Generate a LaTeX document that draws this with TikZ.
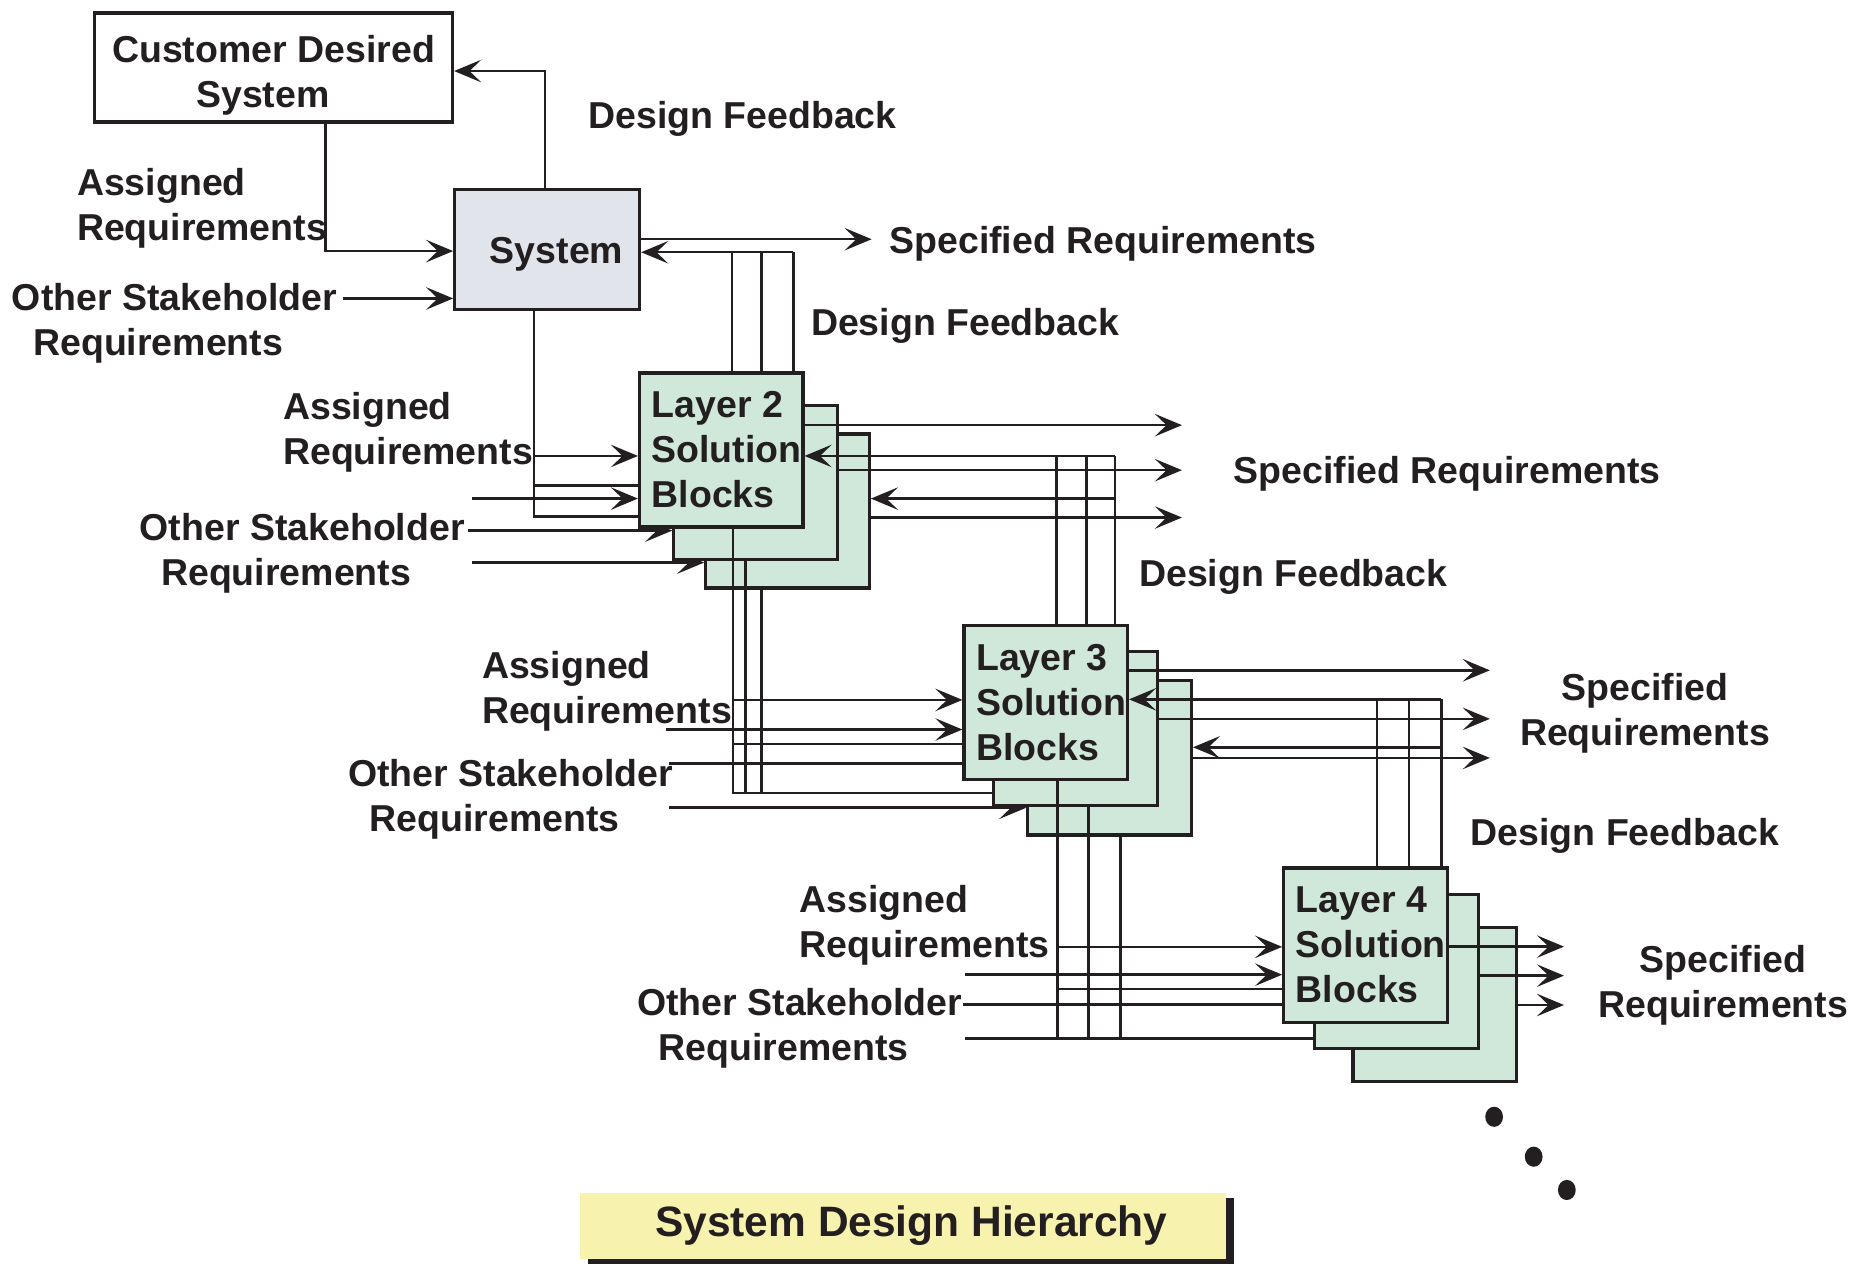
\documentclass[tikz,border=0pt]{standalone}
\usepackage{fontspec}
\setmainfont{Liberation Sans}
\usetikzlibrary{positioning, arrows.meta, shadows}
\definecolor{ink}{HTML}{231F20}
\definecolor{solgreen}{HTML}{CFE8DA}
\definecolor{sysgray}{HTML}{E1E4EA}
\definecolor{titleyellow}{HTML}{F7F2AE}
\newcommand{\assreq}{Assigned\\Requirements}
\newcommand{\otherreq}{Other Stakeholder\\\hspace*{1.8mm}Requirements}
\newcommand{\solblk}[1]{\hspace*{0.9mm}Layer #1\\\hspace*{0.9mm}Solution\\\hspace*{0.9mm}Blocks}

\begin{document}
\begin{tikzpicture}[x=0.01cm, y=-0.01cm, color=ink, line width=0.6pt,
  every node/.style={font=\fontsize{9}{10.8}\selectfont\bfseries, text=ink},
  lbl/.style={inner sep=0pt, align=left, yshift=-0.3mm},
  box/.style={draw=ink, line width=0.75pt, inner sep=0pt},
  blk/.style={box, fill=solgreen, minimum width=1.38cm, minimum height=1.30cm},
  arr/.style={-{Stealth[length=6.5pt, width=5.4pt, inset=2.8pt]}}]
\useasboundingbox (0,0) rectangle (1568,1067);

\node[box, minimum width=3.02cm, minimum height=0.92cm] (cds) at (231,57) {};
\node[lbl] (cdst) at ([yshift=-0.4mm]cds.center) {Customer Desired\\\hspace*{7.1mm}System};
\node[box, fill=sysgray, minimum width=1.56cm, minimum height=1.01cm] (sys) at (462,210.5) {};
\node[lbl] (syst) at ([xshift=0.8mm, yshift=-0.1mm]sys.center) {System};

% solution block stacks, back to front
\foreach \n/\x/\y in {2/665/431.5, 3/937/640, 4/1211.5/848.5}
  \node[blk] (c\n) at (\x,\y) {};
\coordinate (in2c) at (398.6,475);
\coordinate (in3c) at (565,682);
\draw[arr] (in2c) -- (in2c -| c2.west);
\draw[arr] (in3c) -- (in3c -| c3.west);
\foreach \n/\x/\y in {2/638/407.5, 3/908/615, 4/1179/820.5}
  \node[blk] (b\n) at (\x,\y) {};
\coordinate (in2b) at (395,448);
\draw[arr] (in2b) -- (in2b -| b2.west);
\foreach \n/\x/\y in {2/609/380, 3/883/593.5, 4/1153/798}
  \node[blk, align=left] (a\n) at (\x,\y) {\solblk{\n}};

% system
\draw[arr] ([xshift=-0.2mm]sys.north) |- ([yshift=-0.3mm]cds.east);
\draw[arr] ([xshift=4.4mm]cds.south) |- ([yshift=-0.15mm]sys.west);
\coordinate (in1) at (290,252);
\draw[arr] (in1) -- (in1 -| sys.west);
\coordinate (sr1) at (736,202);
\draw[arr] (sys.east |- sr1) -- (sr1);
\coordinate (fb1) at (670,213);
\draw[arr] (fb1) -- (fb1 -| sys.east);
\foreach \s in {0.9,3.4,6.1} {
  \coordinate (t) at ([xshift=\s mm]a2.north);
  \draw (t) -- (t |- fb1);
}

% layer 2
\coordinate (sb) at ([xshift=-1.1mm]sys.south);
\draw[arr] (sb) |- ([yshift=-0.5mm]a2.west);
\draw (sb) |- ([yshift=-3mm]a2.west);
\draw (sb) |- ([yshift=-5.6mm]a2.west);
\coordinate (in2a) at (398.6,421);
\draw[arr] (in2a) -- (in2a -| a2.west);
\coordinate (sr2a) at (998,359);
\coordinate (sr2b) at (998,397);
\coordinate (sr2c) at (998,437);
\draw[arr] (a2.east |- sr2a) -- (sr2a);
\draw[arr] (b2.east |- sr2b) -- (sr2b);
\draw[arr] (c2.east |- sr2c) -- (sr2c);
\coordinate (fb2a) at (941.5,385);
\coordinate (fb2c) at (941.5,421);
\draw[arr] (fb2a) -- (fb2a -| a2.east);
\draw[arr] (fb2c) -- (fb2c -| c2.east);
\foreach \s in {0.9,3.45,5.85} {
  \coordinate (t) at ([xshift=\s mm]a3.north);
  \draw (t) -- (t |- fb2a);
}

% layer 3
\coordinate (v1) at ([xshift=1mm]a2.south);
\coordinate (r3) at ([yshift=-5.45mm]b3.west);
\draw (v1) |- (r3);
\draw[arr] (v1) |- ([yshift=0.25mm]a3.west);
\draw (v1) |- ([yshift=-3.45mm]a3.west);
\foreach \n/\s in {b2/-0.85, c2/-2.2} {
  \coordinate (t) at ([xshift=\s mm]\n.south);
  \draw (t) -- (t |- r3);
}
\coordinate (in3a) at (562,616);
\coordinate (in3b) at (565,644.5);
\draw[arr] (in3a) -- (in3a -| a3.west);
\draw (in3b) -- (in3b -| a3.west);
\coordinate (sr3a) at (1258,566);
\coordinate (sr3b) at (1258,607);
\coordinate (sr3c) at (1258,640);
\draw[arr] (a3.east |- sr3a) -- (sr3a);
\draw[arr] (b3.east |- sr3b) -- (sr3b);
\draw[arr] (c3.east |- sr3c) -- (sr3c);
\coordinate (fb3a) at (1216.8,590.5);
\coordinate (fb3c) at (1216.8,631);
\draw[arr] (fb3a) -- (fb3a -| a3.east);
\draw[arr] (fb3c) -- (fb3c -| c3.east);
\foreach \s in {0.95,3.65,6.4} {
  \coordinate (t) at ([xshift=\s mm]a4.north);
  \draw (t) -- (t |- fb3a);
}

% layer 4
\coordinate (in4c) at (815,877);
\draw (in4c) -- (in4c -| b4.west);
\foreach \n/\s in {a3/1, b3/1.1, c3/0.9} {
  \coordinate (t) at ([xshift=\s mm]\n.south);
  \draw (t) -- (t |- in4c);
}
\coordinate (v1) at ([xshift=1mm]a3.south);
\coordinate (in4d) at (893,799.5);
\coordinate (in4e) at (893,835);
\draw[arr] (v1) |- (in4d -| a4.west);
\draw (v1) |- (in4e -| a4.west);
\coordinate (in4a) at (815,823);
\coordinate (in4b) at (813,848);
\draw[arr] (in4a) -- (in4a -| a4.west);
\draw (in4b) -- (in4b -| a4.west);
\coordinate (sr4a) at (1320.6,799.3);
\coordinate (sr4b) at (1320.6,823.8);
\coordinate (sr4c) at (1320.6,848.6);
\draw[arr] (a4.east |- sr4a) -- (sr4a);
\draw[arr] (b4.east |- sr4b) -- (sr4b);
\draw[arr] (c4.east |- sr4c) -- (sr4c);

% labels
\node[lbl] (df1) at (627,97) {Design Feedback};
\node[lbl, anchor=west] (srl1) at (750,203) {Specified Requirements};
\node[lbl] (df2) at (815,272) {Design Feedback};
\node[lbl, anchor=west] (ar1) at (64,173) {\assreq};
\node[lbl, anchor=west] (os1) at (9,270) {\otherreq};
\node[lbl, anchor=west] (ar2) at (238,362) {\assreq};
\node[lbl, anchor=west] (os2) at (117,464) {\otherreq};
\node[lbl] (srl2) at (1222,397) {Specified Requirements};
\node[lbl] (df3) at (1092,484) {Design Feedback};
\node[lbl, anchor=west] (ar3) at (406,581) {\assreq};
\node[lbl, anchor=west] (os3) at (293,672) {\otherreq};
\node[lbl, align=center] (srl3) at (1389,599) {Specified\\Requirements};
\node[lbl] (df4) at (1372,703) {Design Feedback};
\node[lbl, anchor=west] (ar4) at (674,778) {\assreq};
\node[lbl, anchor=west] (os4) at (537,865) {\otherreq};
\node[lbl, align=center] (srl4) at (1455,829) {Specified\\Requirements};

\foreach \p in {(1261.6,943), (1295,976.7), (1323,1004.8)}
  \fill \p ellipse [x radius=0.75mm, y radius=0.85mm];

\node[fill=titleyellow, minimum width=5.45cm, minimum height=0.56cm, inner sep=0pt,
  drop shadow={shadow xshift=0.65mm, shadow yshift=-0.45mm, fill=ink, opacity=1},
  font=\fontsize{10.2}{12}\selectfont\bfseries] (title) at (762.5,1035) {\hspace*{1.4mm}System Design Hierarchy};
\end{tikzpicture}
\end{document}
